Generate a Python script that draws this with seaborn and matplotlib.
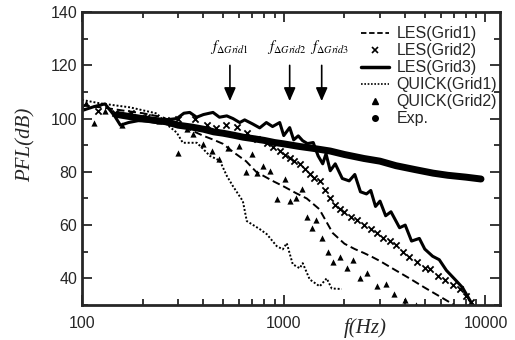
import numpy as np
import pandas as pd
import matplotlib
matplotlib.use("Agg")
import matplotlib.pyplot as plt
from matplotlib.lines import Line2D
import seaborn as sns

# ---------------- data ----------------
les1_f = [100, 130, 160, 200, 250, 300, 350, 400, 450, 500, 560, 650, 730, 880, 1000,
          1150, 1300, 1500, 1750, 2000, 2250, 2500, 2750, 3000, 3500, 4200, 5000, 6000, 7000]
les1_db = [105, 104, 103, 102, 100.5, 98, 95.5, 93.5, 92, 90.5, 87.5, 84, 80, 76.6, 74.5,
           72, 70, 66, 57, 53, 51, 49.5, 48, 46.5, 43.5, 40, 36.5, 33, 30]

les2_f = [100, 120, 146, 175, 210, 260, 300, 362, 415, 460, 520, 584, 656, 740, 822, 880,
          955, 1010, 1070, 1130, 1200, 1270, 1345, 1420, 1510, 1600, 1700, 1800, 1900, 2000,
          2150, 2300, 2500, 2700, 2900, 3100, 3350, 3600, 3900, 4200, 4600, 5000, 5300, 5800,
          6300, 6900, 7460, 8000, 8500]
les2_db = [104.5, 103, 101.9, 102, 100.5, 99.5, 100, 100, 97.4, 96.6, 97.4, 97, 94.7, 92.5,
           90.9, 89.5, 88, 86.5, 85.3, 84, 83, 81, 79.2, 77.5, 76.6, 73, 70, 67.5, 66, 65,
           63, 62, 60, 58.5, 57, 55, 54, 52.5, 50, 48, 46, 44, 43.5, 41, 39.5, 37.5, 36,
           33.5, 31]

les3_f = [100, 115, 130, 145, 155, 170, 190, 215, 235, 260, 295, 320, 342, 370, 400, 446,
          480, 522, 560, 605, 640, 700, 760, 820, 880, 955, 1000, 1070, 1120, 1180, 1240,
          1310, 1400, 1480, 1560, 1620, 1700, 1800, 1950, 2110, 2250, 2400, 2570, 2700,
          2850, 3000, 3200, 3400, 3750, 4000, 4300, 4700, 5000, 5470, 5900, 6400, 7180,
          7700, 8630]
les3_db = [103, 104.5, 105.5, 101, 97.5, 98.5, 99.2, 99, 98.5, 99.5, 100, 102, 102.3, 100.5,
           101.5, 102.3, 100.5, 101, 100, 98.5, 99.5, 98, 96.5, 98.5, 97, 98.5, 93.6, 96.6,
           92, 93.5, 91.7, 90.6, 91, 86, 83, 86.8, 80.4, 83, 77.5, 76.6, 79, 72.5, 71.7,
           73, 67, 69, 63.5, 65, 59, 60, 54, 55, 51, 48.3, 47, 43, 39, 36.5, 30]

quick1_f = [100, 123, 173, 235, 267, 295, 316, 371, 397, 430, 482, 522, 559, 627, 656, 760,
            824, 923, 989, 1035, 1108, 1200, 1242, 1345, 1507, 1632, 1729, 1938]
quick1_db = [107, 105.7, 104.2, 101.9, 97.4, 94.7, 90.9, 90.9, 88.7, 86, 84.2, 78.5, 74.7,
             69, 61.5, 58.5, 56.6, 52.1, 50.9, 53.2, 45.3, 43.8, 45.7, 39.6, 37, 40, 36.2, 36]

quick2_f = [105, 115, 130, 158, 200, 240, 299, 330, 354, 400, 440, 480, 530, 600, 650, 700,
            740, 790, 850, 930, 1010, 1080, 1150, 1230, 1300, 1380, 1450, 1550, 1650, 1750,
            1900, 2050, 2200, 2400, 2600, 2900, 3200, 3500, 4000, 4500]
quick2_db = [106, 98.5, 103, 97.4, 100.5, 99, 87.2, 96, 94.3, 90.6, 88, 85, 89, 89.8, 80,
             86.8, 79.6, 82.3, 80.4, 69.8, 77.4, 69, 70, 73.6, 63, 58.9, 62, 55, 50, 46,
             48, 44, 47, 40, 42, 37, 38, 34, 32, 30]

exp_f = [150, 180, 220, 260, 300, 350, 400, 450, 500, 560, 630, 700, 800, 900, 1000, 1200,
         1400, 1700, 2000, 2500, 3000, 3600, 4500, 5500, 6500, 8000, 9500]
exp_db = [101.5, 100.5, 99.5, 98.8, 97.5, 96.8, 96, 95, 94.5, 93.8, 93, 92.5, 91.8, 91, 90.5,
          89.5, 88.8, 87.8, 86.5, 85, 84, 82.3, 80.8, 79.5, 78.7, 78, 77.3]

labels = ["LES(Grid1)", "LES(Grid2)", "LES(Grid3)", "QUICK(Grid1)", "QUICK(Grid2)", "Exp."]
arrow_f = [541, 1070, 1542]
arrow_text_f = [541, 1035, 1690]
arrow_labels = [r"$f_{\Delta Grid1}$", r"$f_{\Delta Grid2}$", r"$f_{\Delta Grid3}$"]
xticks = [100, 1000, 10000]
yticks = [40, 60, 80, 100, 120, 140]

# ---------------- style ----------------
sns.set_style("ticks")
plt.rcParams["font.family"] = ["Liberation Sans", "DejaVu Sans"]
plt.rcParams["mathtext.fontset"] = "stix"
plt.rcParams["xtick.direction"] = "in"
plt.rcParams["ytick.direction"] = "in"

fig = plt.figure(figsize=(5.15, 3.4), dpi=100)
ax = fig.add_axes([82 / 515, 1 - 305 / 340, (500 - 82) / 515, (305 - 12) / 340])

k = "black"
df_exp = pd.DataFrame({"f": exp_f, "db": exp_db})
sns.lineplot(data=df_exp, x="f", y="db", ax=ax, color=k, lw=5.0,
             solid_capstyle="round", sort=False)
df1 = pd.DataFrame({"f": les1_f, "db": les1_db})
sns.lineplot(data=df1, x="f", y="db", ax=ax, color=k, lw=1.4, linestyle=(0, (4, 2)), sort=False)
df3 = pd.DataFrame({"f": les3_f, "db": les3_db})
sns.lineplot(data=df3, x="f", y="db", ax=ax, color=k, lw=2.2, sort=False)
dq1 = pd.DataFrame({"f": quick1_f, "db": quick1_db})
sns.lineplot(data=dq1, x="f", y="db", ax=ax, color=k, lw=1.4, linestyle=(0, (1, 1)), sort=False)
df2 = pd.DataFrame({"f": les2_f, "db": les2_db})
sns.scatterplot(data=df2, x="f", y="db", ax=ax, color=k, marker="x", s=20, linewidth=1.3)
dq2 = pd.DataFrame({"f": quick2_f, "db": quick2_db})
sns.scatterplot(data=dq2, x="f", y="db", ax=ax, color=k, marker="^", s=20, linewidth=0)

ax.set_xscale("log")
ax.set_xlim(100, 11800)
ax.set_ylim(30, 140)
ax.set_xticks(xticks)
ax.set_xticklabels([str(v) for v in xticks])
ax.set_yticks(yticks)
ax.set_yticks(range(30, 141, 10), minor=True)
ax.tick_params(which="both", top=True, right=True, labelsize=11.5, width=1.3)
ax.tick_params(which="major", length=7)
ax.tick_params(which="minor", length=4)
ax.tick_params(axis="x", pad=8)
for s in ax.spines.values():
    s.set_linewidth(2.0)

ax.set_xlabel("f(Hz)", family="Liberation Serif", style="italic", fontsize=15, va="center")
ax.xaxis.set_label_coords((365 - 82) / 418, (305 - 328) / 293)
ax.set_ylabel("PFL(dB)", family="Liberation Serif", style="italic", fontsize=15, va="center")
ax.yaxis.set_label_coords((26 - 82) / 418, (305 - 145) / 293)

# arrows
for fa, ft, lab in zip(arrow_f, arrow_text_f, arrow_labels):
    ax.annotate("", xy=(fa, 105.5), xytext=(fa, 121),
                arrowprops=dict(arrowstyle="-|>,head_length=0.8,head_width=0.35",
                                color=k, lw=1.2))
    ax.text(ft, 127, lab, ha="center", va="center", fontsize=10.5, color=k)

handles = [
    Line2D([], [], color=k, lw=1.3, linestyle=(0, (3, 1.5))),
    Line2D([], [], color=k, lw=0, marker="x", markersize=4, mew=1.2),
    Line2D([], [], color=k, lw=2.5),
    Line2D([], [], color=k, lw=1.2, linestyle=(0, (1, 1))),
    Line2D([], [], color=k, lw=0, marker="^", markersize=4.5),
    Line2D([], [], color=k, lw=0, marker="o", markersize=4),
]
ax.legend(handles, labels, loc="upper right", bbox_to_anchor=(1.02, 0.99), frameon=False,
          fontsize=11.5, handlelength=1.7, handletextpad=0.5, labelspacing=0.13,
          borderaxespad=0.3)

fig.savefig("out.png", dpi=100)
